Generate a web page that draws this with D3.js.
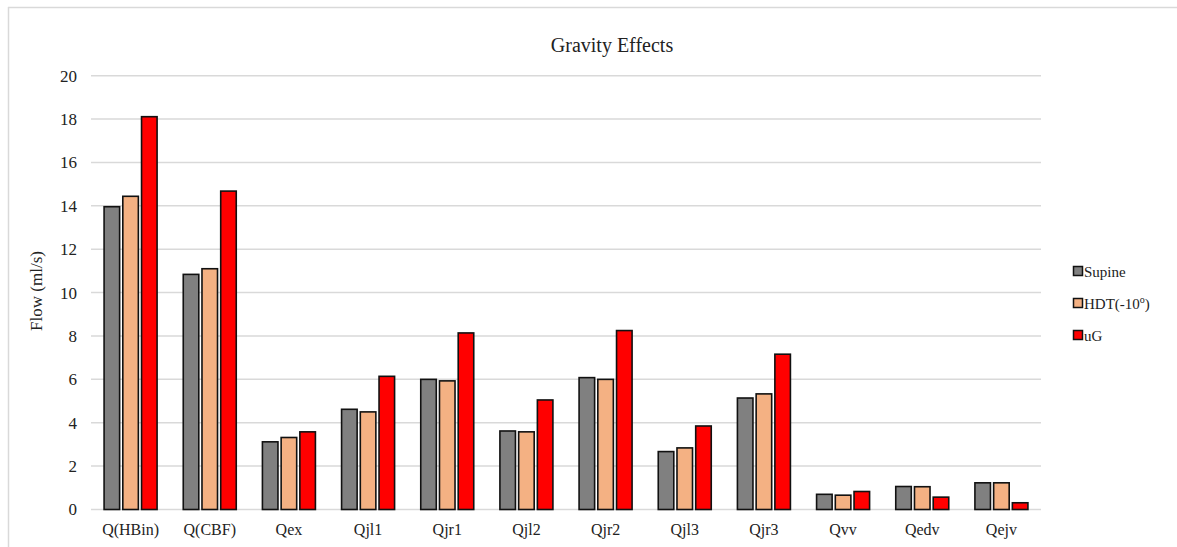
<!DOCTYPE html>
<html><head><meta charset="utf-8">
<script src="https://cdn.jsdelivr.net/npm/d3@7"></script>
<style>body{margin:0;background:#fff}svg{display:block}text{font-family:"Liberation Serif","Times New Roman",serif;fill:#222}</style>
</head><body><svg id="c" width="1177" height="547"></svg>
<script>
const categories = ["Q(HBin)","Q(CBF)","Qex","Qjl1","Qjr1","Qjl2","Qjr2","Qjl3","Qjr3","Qvv","Qedv","Qejv"];
const seriesNames = ["Supine","HDT(-10","uG"];
const supine = [13.96,10.84,3.12,4.62,6.0,3.62,6.08,2.67,5.14,0.70,1.06,1.23];
const hdt    = [14.44,11.10,3.32,4.50,5.93,3.58,6.00,2.84,5.33,0.66,1.05,1.23];
const ug     = [18.11,14.68,3.58,6.14,8.14,5.05,8.25,3.85,7.16,0.83,0.57,0.31];
const yTicks = [0,2,4,6,8,10,12,14,16,18,20];
const colors = ["#808080","#F4B183","#FF0000"];

const svg = d3.select("#c");
const m = {l:91, r:1041, t:75.7, b:509.5};
const x = d3.scaleBand().domain(categories).range([m.l,m.r]).paddingInner(0).paddingOuter(0);
const y = d3.scaleLinear().domain([0,20]).range([m.b,m.t]);
const xs = d3.scaleBand().domain([0,1,2]).range([0,53]).paddingInner(0.17);

// border
svg.append("line").attr("x1",8).attr("x2",1177).attr("y1",7.5).attr("y2",7.5).attr("stroke","#d9d9d9").attr("stroke-width",1.5);
svg.append("line").attr("x1",8.5).attr("x2",8.5).attr("y1",7).attr("y2",547).attr("stroke","#d9d9d9").attr("stroke-width",1.5);

// grid
svg.append("g").selectAll("line").data(yTicks).join("line")
  .attr("x1",m.l).attr("x2",m.r).attr("y1",d=>y(d)).attr("y2",d=>y(d))
  .attr("stroke","#d9d9d9").attr("stroke-width",1.5);

// y axis
const ya = svg.append("g").attr("transform",`translate(${m.l},0)`)
  .call(d3.axisLeft(y).tickValues(yTicks).tickSize(0).tickPadding(14));
ya.select(".domain").remove();
ya.selectAll("text").attr("font-size",17).attr("font-family","Liberation Serif").attr("fill","#222");

// x axis
const xa = svg.append("g").attr("transform",`translate(0,${m.b})`)
  .call(d3.axisBottom(x).tickSize(0).tickPadding(14));
xa.select(".domain").remove();
xa.selectAll("text").attr("font-size",16).attr("font-family","Liberation Serif").attr("fill","#222");

// bars
const data = [supine,hdt,ug];
const g = svg.append("g");
categories.forEach((c,i)=>{
  data.forEach((s,j)=>{
    const x0 = x(c) + (x.bandwidth()-53)/2 + xs(j);
    g.append("rect").attr("x",x0).attr("y",y(s[i])).attr("width",xs.bandwidth())
      .attr("height",y(0)-y(s[i])).attr("fill",colors[j]).attr("stroke","#111").attr("stroke-width",1.6);
  });
});

// title
svg.append("text").attr("x",612).attr("y",51.5).attr("text-anchor","middle").attr("font-size",20).text("Gravity Effects");
// y label
svg.append("text").attr("transform","translate(42,291) rotate(-90)").attr("text-anchor","middle").attr("font-size",17).text("Flow (ml/s)");

// legend
const lg = svg.append("g");
seriesNames.forEach((n,j)=>{
  const yy = 271 + j*32;
  lg.append("rect").attr("x",1073.5).attr("y",yy-4.5).attr("width",9).attr("height",9)
    .attr("fill",colors[j]).attr("stroke","#111").attr("stroke-width",1.5);
  const t = lg.append("text").attr("x",1084).attr("y",yy+5.5).attr("font-size",15).text(n);
  if(j===1){ t.append("tspan").attr("font-size",10).attr("dy",-6).text("o"); t.append("tspan").attr("dy",6).text(")"); }
});
</script></body></html>
